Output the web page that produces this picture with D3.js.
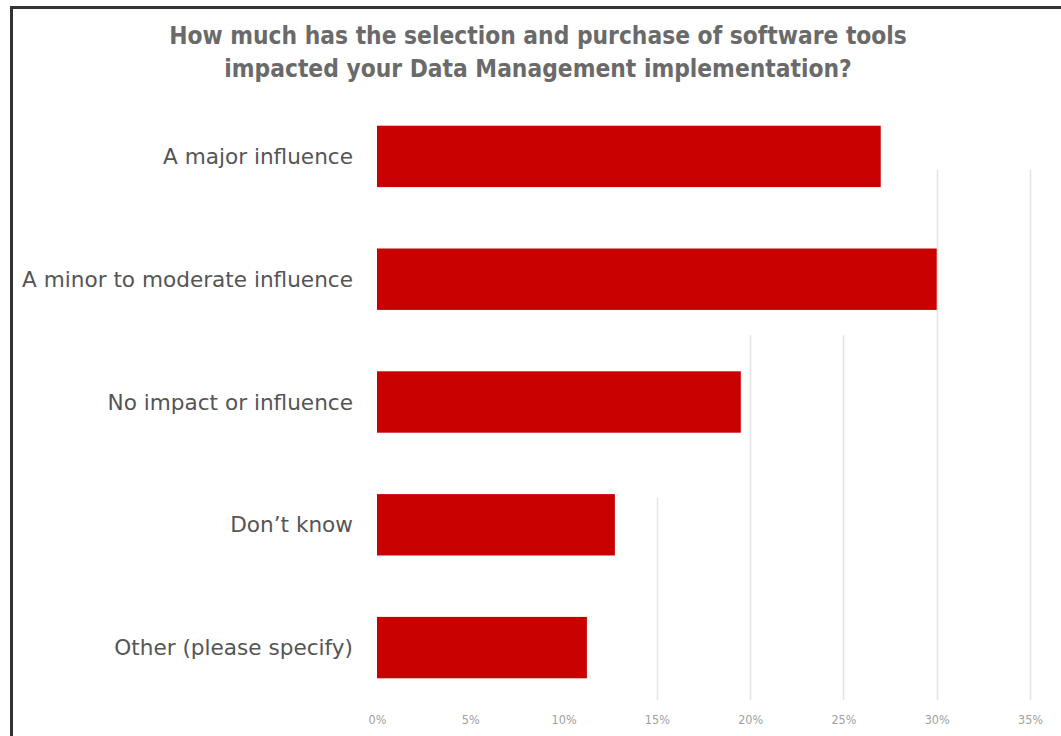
<!DOCTYPE html>
<html>
<head>
<meta charset="utf-8">
<script src="https://cdn.jsdelivr.net/npm/d3@7/dist/d3.min.js"></script>
<style>
  html, body { margin: 0; padding: 0; background: #fff; }
  svg { display: block; }
</style>
</head>
<body>
<svg id="chart" width="1061" height="736"></svg>
<script>
// Survey responses (share of respondents)
const categories = [
  "A major influence",
  "A minor to moderate influence",
  "No impact or influence",
  "Don\u2019t know",
  "Other (please specify)"
];
const values = [27.0, 30.0, 19.5, 12.75, 11.25];
const tickValues = [0, 5, 10, 15, 20, 25, 30, 35];
const tickLabels = ["0%", "5%", "10%", "15%", "20%", "25%", "30%", "35%"];
const titleLines = [
  "How much has the selection and purchase of software tools",
  "impacted your Data Management implementation?"
];

const W = 1061, H = 736;
const svg = d3.select("#chart");

// frame (left and top edges)
svg.append("path")
  .attr("d", `M11.5,${H} L11.5,7.5 L${W},7.5`)
  .attr("fill", "none")
  .attr("stroke", "#333")
  .attr("stroke-width", 3);

const x = d3.scaleLinear().domain([0, 35]).range([377, 1030]);
const y = d3.scaleBand().domain(categories).range([95, 709]).paddingInner(0.5).paddingOuter(0.25);

// gridlines: each starts partway down the plot
const gridStart = {
  15: y(categories[3]) + 4,
  20: y(categories[2]) - 36,
  25: y(categories[2]) - 36,
  30: y(categories[0]) + 44,
  35: y(categories[0]) + 44
};
const grid = svg.append("g");
tickValues.filter(t => gridStart[t] !== undefined).forEach(t => {
  grid.append("line")
    .attr("x1", Math.round(x(t)) + 0.5).attr("x2", Math.round(x(t)) + 0.5)
    .attr("y1", gridStart[t]).attr("y2", 700)
    .attr("stroke", "#e4e4e4").attr("stroke-width", 1.5);
});

// bars
svg.append("g").selectAll("rect")
  .data(categories)
  .join("rect")
  .attr("x", x(0))
  .attr("y", d => y(d))
  .attr("width", (d, i) => x(values[i]) - x(0))
  .attr("height", y.bandwidth())
  .attr("fill", "#c90000");

// category labels
svg.append("g").selectAll("text")
  .data(categories)
  .join("text")
  .attr("x", 353)
  .attr("y", d => y(d) + y.bandwidth() / 2)
  .attr("dy", "0.35em")
  .attr("text-anchor", "end")
  .attr("font-family", "DejaVu Sans, Verdana, sans-serif")
  .attr("font-size", 21.6)
  .attr("fill", "#555")
  .text(d => d);

// x axis
const xAxis = d3.axisBottom(x)
  .tickValues(tickValues)
  .tickFormat((d, i) => tickLabels[i])
  .tickSize(0)
  .tickPadding(0);
const gx = svg.append("g").attr("transform", "translate(0,715)").call(xAxis);
gx.select(".domain").remove();
gx.selectAll("text")
  .attr("font-family", "DejaVu Sans Condensed, DejaVu Sans, sans-serif")
  .attr("font-size", 12.5)
  .attr("fill", "#a0a0a0");

// title
svg.append("g").selectAll("text")
  .data(titleLines)
  .join("text")
  .attr("x", 538)
  .attr("y", (d, i) => 44 + i * 33)
  .attr("text-anchor", "middle")
  .attr("font-family", "DejaVu Sans Condensed, DejaVu Sans, sans-serif")
  .attr("font-weight", "bold")
  .attr("font-size", 24.3)
  .attr("fill", "#6a6a6a")
  .text(d => d);
</script>
</body>
</html>
